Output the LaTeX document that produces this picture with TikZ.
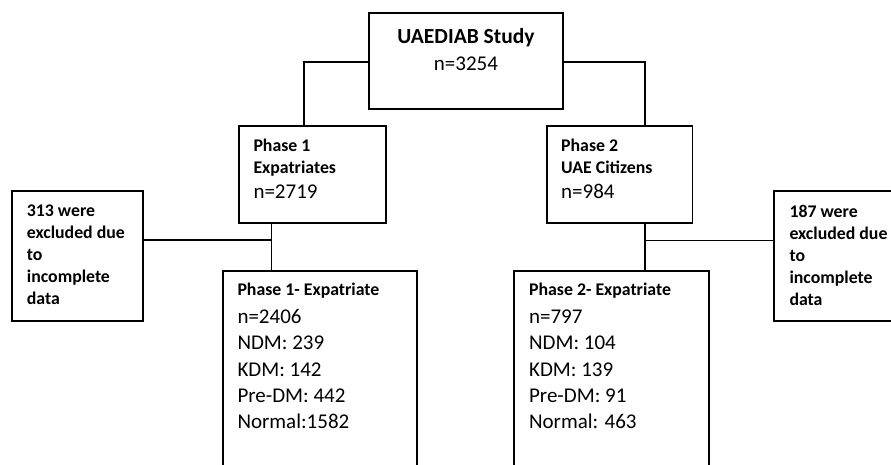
\documentclass[tikz,border=0pt]{standalone}
\usepackage{fontspec}
\setmainfont{Carlito}
\begin{document}
\begin{tikzpicture}[x=1pt,y=-1pt]
\tikzset{
  box/.style={draw=black, line width=1.8pt, rectangle, inner sep=0pt},
  link/.style={draw=black, line width=1.2pt},
  txt/.style={inner sep=0pt, align=left, anchor=north west, text=black},
}
\clip (0,0) rectangle (891,464);
\fill[white] (0,0) rectangle (891,464);
% boxes
\node[box, minimum width=194, minimum height=96] (top) at (466,61) {};
\node[box, minimum width=146.4, minimum height=97] (p1) at (312.5,174.5) {};
\node[box, minimum width=145.8, minimum height=97] (p2) at (619.6,174.5) {};
\node[box, minimum width=130.4, minimum height=129.7] (x1) at (77.5,255.9) {};
\node[box, minimum width=130.4, minimum height=129.7] (x2) at (838.9,255.9) {};
\node[box, minimum width=194.6, minimum height=209] (e1) at (320,375.5) {};
\node[box, minimum width=194.7, minimum height=209] (e2) at (611.65,375.5) {};
% texts
\node[txt, align=center, anchor=north, font=\fontsize{21}{26.3}\selectfont] (topt) at (466,28.6)
  {{\bfseries\fontsize{21.5}{26.3}\selectfont UAEDIAB Study}\\n=3254};
\node[txt, font=\fontsize{17.8}{21.7}\selectfont] (p1t) at (253.3,139.2)
  {\textbf{Phase 1}\\\textbf{Expatriates}\\[3.2pt]{\fontsize{21}{25}\selectfont n=2719}};
\node[txt, font=\fontsize{17.8}{21.7}\selectfont] (p2t) at (561,139.2)
  {\textbf{Phase 2}\\\textbf{UAE Citizens}\\[3.2pt]{\fontsize{21}{25}\selectfont n=984}};
\node[txt, font=\bfseries\fontsize{17.8}{21.9}\selectfont] (x1t) at (26.7,205)
  {313 were\\excluded due\\to\\incomplete\\data};
\node[txt, font=\bfseries\fontsize{17.8}{21.9}\selectfont] (x2t) at (789.3,205)
  {187 were\\excluded due\\to\\incomplete\\data};
\node[txt, font=\fontsize{21}{26.3}\selectfont] (e1t) at (237.3,283.2)
  {{\bfseries\fontsize{17.8}{21}\selectfont Phase 1- Expatriate}\\[1.3pt]n=2406\\NDM: 239\\KDM: 142\\Pre-DM: 442\\Normal:1582};
\node[txt, font=\fontsize{21}{26.3}\selectfont] (e2t) at (528.9,283.2)
  {{\bfseries\fontsize{17.8}{21}\selectfont Phase 2- Expatriate}\\[1.3pt]n=797\\NDM: 104\\KDM: 139\\Pre-DM: 91\\Normal: 463};
% junction coordinates
\coordinate (k1) at (304,62);
\coordinate (k2) at (645,62);
\coordinate (j1) at (271.7,240);
\coordinate (j2) at (645,240.7);
% connectors
\draw[link] (top.west |- k1) -- (k1) -- (p1.north -| k1);
\draw[link] (top.east |- k2) -- (k2) -- (p2.north -| k2);
\draw[link] (p1.south -| j1) -- (e1.north -| j1);
\draw[link] (x1.east |- j1) -- (j1);
\draw[link] (p2.south -| j2) -- (e2.north -| j2);
\draw[link] (j2) -- (x2.west |- j2);
\end{tikzpicture}
\end{document}
